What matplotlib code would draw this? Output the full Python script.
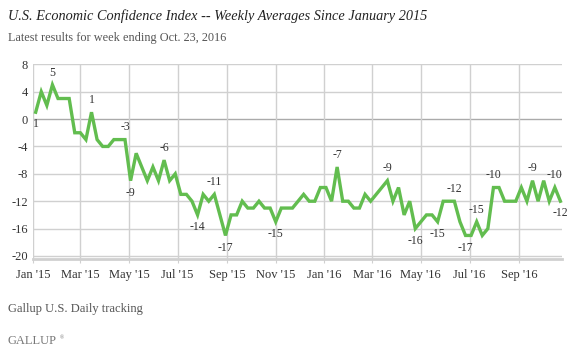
import numpy as np
import pandas as pd
import matplotlib
matplotlib.use("Agg")
import matplotlib.pyplot as plt
import matplotlib.dates as mdates

# weekly averages, week ending Jan 4, 2015 .. Oct 23, 2016
weeks = pd.date_range("2015-01-04", "2016-10-23", freq="7D")
eci = [1, 4, 2, 5, 3, 3, 3, -2, -2, -3,
       1, -3, -4, -4, -3, -3, -3, -9, -5, -7,
       -9, -7, -9, -6, -9, -8, -11, -11, -12, -14,
       -11, -12, -11, -14, -17, -14, -14, -12, -13, -13,
       -12, -13, -13, -15, -13, -13, -13, -12, -11, -12,
       -12, -10, -10, -12, -7, -12, -12, -13, -13, -11,
       -12, -11, -10, -9, -12, -10, -14, -12, -16, -15,
       -14, -14, -15, -12, -12, -12, -15, -17, -17, -15,
       -17, -16, -10, -10, -12, -12, -12, -10, -12, -9,
       -12, -9, -12, -10, -12]

# which points get a value label, and whether it sits above (1) or below (-1)
label_idx = [0, 3, 10, 16, 17, 23, 29, 32, 34, 43, 54, 63, 68, 72, 75, 77, 79, 82, 89, 93, 94]
label_side = [-1, 1, 1, 1, -1, 1, -1, 1, -1, -1, 1, 1, -1, -1, 1, -1, 1, 1, 1, 1, -1]

y_ticks = [8, 4, 0, -4, -8, -12, -16, -20]
x_ticks = pd.date_range("2015-01-01", "2016-09-01", freq="2MS")

serif = ["Liberation Serif", "DejaVu Serif"]
green = "#62bd4f"
grid = "#d0d0d0"

fig = plt.figure(figsize=(5.70, 3.54), dpi=100)
ax = fig.add_axes([0.0584, 0.2672, 0.9276, 0.5512])

ax.plot(weeks, eci, color=green, lw=2.4, solid_joinstyle="miter", zorder=3, clip_on=False)

for i, side in zip(label_idx, label_side):
    ax.annotate(f"{eci[i]}", (weeks[i], eci[i]), xytext=(0, 8.8 * side),
                textcoords="offset points", ha="center", va="center",
                fontsize=8.5, family=serif, color="#333333", zorder=4)

ax.set_ylim(-20.5, 8)
ax.set_xlim(pd.Timestamp("2015-01-01"), pd.Timestamp("2016-10-25"))
ax.set_yticks(y_ticks)
ax.set_yticklabels([str(v) for v in y_ticks])
ax.set_xticks(x_ticks)
ax.set_xticklabels([d.strftime("%b '%y") for d in x_ticks])

for v in y_ticks:
    ax.axhline(v, color="#aaaaaa" if v == 0 else grid, lw=1, zorder=1)
for d in x_ticks:
    ax.axvline(d, ymin=0, ymax=1, color=grid, lw=1, zorder=1)

for s in ["top", "right", "left"]:
    ax.spines[s].set_visible(False)
ax.spines["bottom"].set_color(grid)
ax.spines["bottom"].set_linewidth(2)
ax.tick_params(axis="y", length=0, pad=4, labelsize=9, labelcolor="#333333")
ax.tick_params(axis="x", length=3, color=grid, pad=4, labelsize=9, labelcolor="#333333")
for lbl in ax.get_xticklabels() + ax.get_yticklabels():
    lbl.set_family(serif)

fig.text(0.014, 0.955, "U.S. Economic Confidence Index -- Weekly Averages Since January 2015",
         fontsize=10.3, style="italic", family=serif, color="#222222", va="center")
fig.text(0.014, 0.893, "Latest results for week ending Oct. 23, 2016",
         fontsize=8.8, family=serif, color="#555555", va="center")
fig.text(0.014, 0.127, "Gallup U.S. Daily tracking",
         fontsize=9, family=serif, color="#555555", va="center")
fig.text(0.014, 0.037, "GALLUP", fontsize=9, family=serif, color="#777777", va="center")
fig.text(0.104, 0.045, "\u00ae", fontsize=4, family=serif, color="#777777", va="center")

fig.savefig("out.png", dpi=100)
